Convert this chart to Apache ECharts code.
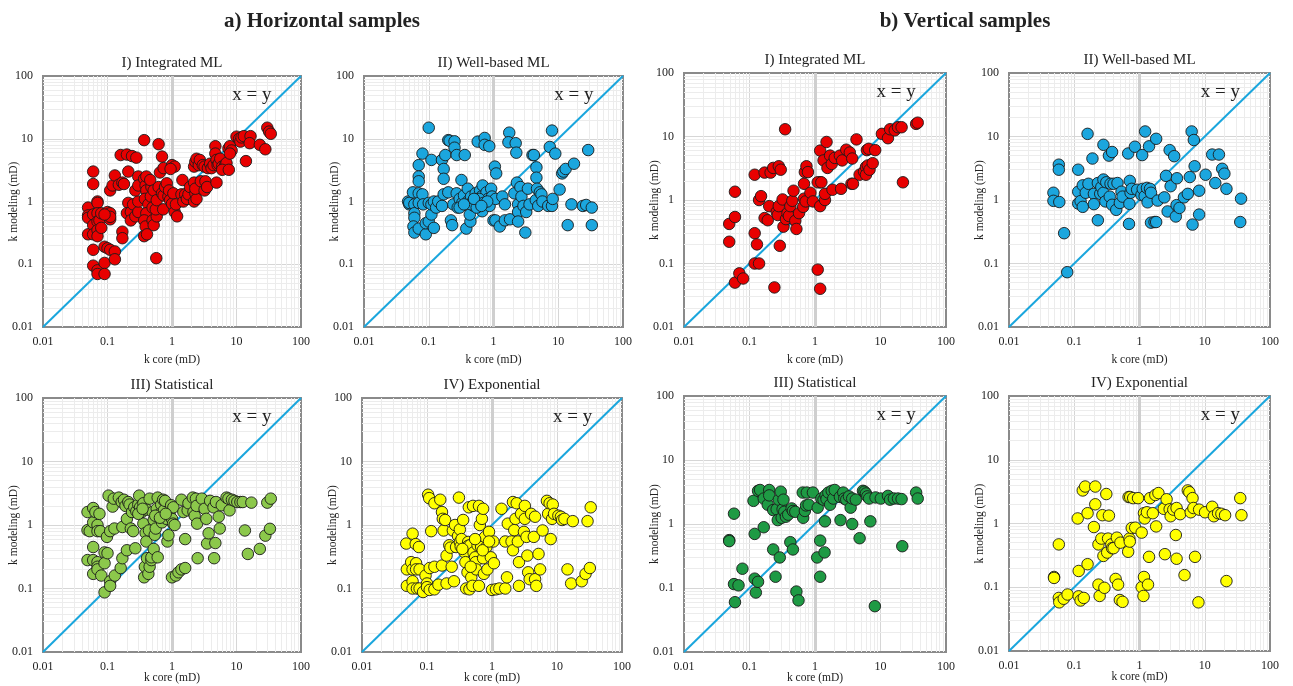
<!DOCTYPE html>
<html>
<head>
<meta charset="utf-8">
<script src="https://cdn.jsdelivr.net/npm/echarts@6/dist/echarts.min.js"></script>
<style>
  html, body { margin: 0; padding: 0; background: #fff; }
  #chart { width: 1293px; height: 686px; }
</style>
</head>
<body>
<div id="chart"></div>
<script>
// axis ticks shared by every panel
const tickLabels = ['0.01', '0.1', '1', '10', '100'];
const axisRange = [0.01, 100];
const sectionTitles = ['a) Horizontal samples', 'b) Vertical samples'];
const panelTitles = [
  'I) Integrated ML', 'II) Well-based ML', 'I) Integrated ML', 'II) Well-based ML',
  'III) Statistical', 'IV) Exponential', 'III) Statistical', 'IV) Exponential',
];

// [k core, k modeling] pairs
const hIntegrated = [
  [0.05,0.8],[0.05,0.6],[0.05,0.55],[0.05,0.3],[0.06,3.0],[0.06,1.9],[0.06,0.62],[0.06,0.42],[0.06,0.3],[0.06,0.17],
  [0.06,0.095],[0.07,0.08],[0.07,0.07],[0.07,1.0],[0.07,0.95],[0.07,0.65],[0.07,0.48],[0.07,0.35],[0.07,0.28],[0.075,0.5],
  [0.08,0.38],[0.08,0.65],[0.09,0.19],[0.09,0.105],[0.09,0.07],[0.1,0.18],[0.11,0.17],[0.13,0.16],[0.13,0.12],[0.1,0.68],
  [0.11,0.65],[0.11,0.52],[0.11,0.57],[0.09,0.62],[0.11,1.5],[0.12,1.8],[0.13,2.6],[0.16,5.5],[0.2,5.6],[0.24,5.3],
  [0.28,5.0],[0.21,3.0],[0.17,0.33],[0.17,0.26],[0.15,1.85],[0.17,2.0],[0.18,1.9],[0.21,0.95],[0.2,0.65],[0.23,0.68],
  [0.23,0.5],[0.25,0.9],[0.27,0.58],[0.3,0.68],[0.3,1.0],[0.27,1.5],[0.3,2.5],[0.3,1.8],[0.37,9.5],[0.37,2.3],
  [0.39,1.8],[0.4,2.5],[0.4,1.5],[0.38,1.1],[0.43,0.9],[0.4,0.65],[0.37,0.5],[0.39,0.4],[0.37,0.28],[0.41,0.3],
  [0.47,1.2],[0.48,1.7],[0.46,2.2],[0.52,1.5],[0.5,0.8],[0.5,0.5],[0.52,0.42],[0.58,0.58],[0.56,0.75],[0.58,1.05],
  [0.57,0.125],[0.62,1.7],[0.62,8.2],[0.7,5.2],[0.65,2.9],[0.74,3.4],[0.7,1.35],[0.74,1.25],[0.73,0.75],[0.78,1.7],
  [0.83,1.95],[0.88,1.2],[0.9,1.5],[0.93,1.05],[1.0,0.92],[1.0,3.8],[1.1,3.6],[0.95,3.3],[1.05,1.35],[1.1,0.68],
  [1.15,0.9],[1.2,0.58],[1.45,2.2],[1.4,1.3],[1.5,1.0],[1.6,1.3],[1.7,1.1],[1.8,1.3],[1.9,1.7],[2.2,2.0],
  [2.2,1.0],[2.3,1.35],[2.4,1.1],[2.3,1.6],[2.2,3.6],[2.3,4.3],[2.4,4.8],[2.6,3.8],[2.7,4.6],[2.8,2.1],
  [3.0,3.8],[3.2,3.6],[3.2,1.5],[3.3,2.1],[3.5,1.7],[3.6,3.4],[3.9,4.0],[4.1,3.4],[4.4,3.8],[4.7,7.6],
  [4.7,5.8],[4.9,4.6],[4.9,2.0],[5.1,3.8],[5.3,4.0],[5.6,4.8],[6.0,3.6],[6.7,3.8],[7.0,4.1],[6.0,3.2],
  [7.6,3.2],[7.5,7.0],[7.9,7.6],[8.4,6.5],[7.9,5.8],[10,10.8],[11,10],[11.5,9],[12,10.5],[13,11],
  [14,4.4],[16.5,11],[16,8.5],[23,8],[28,6.8],[30,15],[32,13],[34,12],
];
const hWellBased = [
  [0.1,15],[0.048,1.0],[0.05,0.9],[0.05,0.95],[0.057,1.4],[0.06,0.9],[0.06,0.65],[0.06,0.55],[0.058,0.4],[0.06,0.32],
  [0.07,3.8],[0.07,2.5],[0.07,2.1],[0.07,1.35],[0.07,0.95],[0.07,0.37],[0.08,5.8],[0.08,1.3],[0.082,0.9],[0.09,0.3],
  [0.09,0.45],[0.1,0.48],[0.1,0.95],[0.11,4.6],[0.11,0.62],[0.11,0.9],[0.12,0.38],[0.12,1.0],[0.13,0.8],[0.14,1.0],
  [0.16,4.6],[0.17,3.3],[0.17,2.3],[0.17,1.3],[0.16,0.85],[0.18,5.5],[0.2,9.5],[0.21,9.3],[0.2,1.4],[0.22,0.5],
  [0.23,0.42],[0.24,0.9],[0.25,9.1],[0.25,7.2],[0.27,5.5],[0.27,1.35],[0.28,0.8],[0.3,1.1],[0.32,2.2],[0.33,0.95],
  [0.36,5.5],[0.35,1.25],[0.38,0.37],[0.4,1.6],[0.4,1.0],[0.42,0.85],[0.44,0.48],[0.43,0.62],[0.45,1.2],[0.48,1.0],
  [0.5,0.85],[0.53,1.35],[0.55,1.0],[0.57,9.0],[0.6,0.95],[0.62,1.5],[0.65,1.2],[0.67,0.7],[0.68,1.8],[0.73,10.3],
  [0.73,8.0],[0.78,1.4],[0.82,1.1],[0.86,7.6],[0.87,0.85],[0.92,1.6],[0.95,1.2],[1.0,0.5],[1.05,3.6],[1.07,0.5],
  [1.08,1.1],[1.1,2.8],[1.25,0.4],[1.37,1.2],[1.5,0.9],[1.5,0.5],[1.75,12.5],[1.7,8.8],[1.8,0.52],[2.1,1.35],
  [2.2,8.5],[2.25,6.0],[2.3,2.0],[2.4,0.9],[2.4,0.68],[2.4,0.48],[2.6,1.7],[2.7,1.2],[2.9,0.85],[3.1,0.32],
  [3.2,0.68],[3.4,1.6],[3.6,0.9],[4.0,5.5],[4.2,5.5],[4.5,1.05],[4.6,3.5],[4.6,2.4],[4.7,1.6],[4.9,0.85],
  [5.2,1.4],[5.5,1.3],[5.7,1.0],[7.0,0.85],[7.4,7.4],[8.0,13.5],[8.0,0.85],[8.2,1.1],[9.0,5.8],[10.5,1.55],
  [11.5,2.8],[12,3.0],[13,3.3],[14,0.42],[16,0.9],[17.5,4.0],[24,0.85],[27,0.88],[29,6.6],[33,0.8],
  [33,0.42],[0.3,0.8],[0.45,0.9],[0.55,0.8],[0.6,1.1],[0.35,0.9],[0.7,0.95],[0.8,1.0],[0.5,1.1],[0.65,0.85],
];
const vIntegrated = [
  [0.049,0.42],[0.049,0.22],[0.06,1.35],[0.06,0.54],[0.06,0.05],[0.07,0.07],[0.08,0.058],[0.12,2.5],[0.12,0.3],[0.13,0.2],
  [0.12,0.1],[0.14,0.1],[0.14,1.0],[0.15,1.15],[0.17,0.52],[0.17,2.7],[0.19,0.48],[0.2,0.8],[0.21,2.7],[0.23,3.2],
  [0.24,0.042],[0.26,0.65],[0.27,0.58],[0.28,3.4],[0.28,0.8],[0.29,0.19],[0.3,3.0],[0.32,1.02],[0.33,0.38],[0.35,13],
  [0.36,0.5],[0.38,0.62],[0.4,0.56],[0.42,0.8],[0.45,0.97],[0.47,1.4],[0.5,0.47],[0.52,0.35],[0.57,0.62],[0.66,0.78],
  [0.68,1.8],[0.68,1.05],[0.7,2.75],[0.74,3.4],[0.78,2.75],[0.72,0.95],[0.85,1.3],[0.93,0.95],[1.1,0.08],[1.2,0.04],
  [1.2,0.8],[1.2,1.9],[1.1,1.9],[1.25,1.9],[1.2,6.0],[1.35,4.2],[1.42,1.0],[1.42,1.25],[1.5,8.2],[1.55,3.2],
  [1.7,5.0],[1.8,3.7],[1.85,1.45],[2.0,4.6],[2.4,5.0],[2.5,1.5],[2.6,4.2],[3.0,6.2],[3.4,5.6],[3.6,1.8],
  [3.8,1.8],[3.7,4.5],[4.3,9.0],[4.8,2.5],[5.6,2.8],[6.0,3.3],[6.2,6.1],[6.0,2.5],[6.4,3.5],[6.6,6.4],
  [6.8,3.0],[7.6,3.8],[8.3,6.1],[10.5,11],[13,9.4],[14,13],[16.5,12.5],[18.5,14],[21,14],[22,1.9],
  [35,15.8],[37,16.5],
];
const vWellBased = [
  [0.048,1.3],[0.048,0.97],[0.058,3.6],[0.058,3.0],[0.059,0.93],[0.07,0.3],[0.078,0.073],[0.115,3.0],[0.115,1.35],[0.115,0.88],
  [0.125,0.96],[0.135,0.78],[0.135,1.7],[0.15,1.3],[0.16,11],[0.165,1.8],[0.19,4.5],[0.2,1.25],[0.2,0.86],[0.23,0.48],
  [0.23,1.85],[0.25,1.25],[0.26,1.6],[0.28,7.4],[0.28,2.1],[0.28,1.3],[0.3,0.95],[0.31,1.9],[0.34,5.0],[0.35,1.13],
  [0.36,1.8],[0.38,5.7],[0.38,0.84],[0.4,1.8],[0.44,0.7],[0.46,1.85],[0.5,0.9],[0.53,1.35],[0.55,1.13],[0.67,5.4],
  [0.69,0.42],[0.7,0.87],[0.71,2.0],[0.73,1.3],[0.76,1.5],[0.85,6.9],[0.92,1.45],[1.07,1.2],[1.1,5.1],[1.12,1.5],
  [1.2,1.15],[1.22,12],[1.3,1.55],[1.33,0.92],[1.4,7.0],[1.45,1.5],[1.5,1.3],[1.5,0.44],[1.7,0.45],[1.8,0.45],
  [1.8,9.2],[1.9,0.98],[2.4,1.1],[2.55,2.4],[2.7,0.66],[2.9,6.1],[3.0,1.65],[3.4,4.9],[3.6,0.55],[3.7,0.83],
  [3.75,2.2],[4.1,0.75],[4.8,1.1],[5.5,1.25],[5.9,2.3],[6.3,12],[6.5,0.41],[6.8,8.8],[7.0,3.4],[8.2,1.4],
  [8.2,0.59],[10.3,2.5],[13,5.2],[14.5,1.85],[16.5,5.2],[18.5,3.1],[20,2.6],[21.5,1.5],[36,1.05],[35,0.45],
];
const hStatistical = [
  [0.049,1.6],[0.049,0.83],[0.049,0.28],[0.053,0.8],[0.06,1.85],[0.06,1.1],[0.06,0.45],[0.06,0.28],[0.06,0.17],[0.065,1.6],
  [0.07,1.0],[0.07,0.8],[0.07,0.26],[0.07,0.22],[0.07,0.2],[0.075,1.5],[0.077,0.8],[0.08,0.16],[0.09,0.37],[0.09,0.25],
  [0.09,0.087],[0.098,0.65],[0.1,0.36],[0.104,2.9],[0.11,0.8],[0.11,0.13],[0.11,0.11],[0.12,1.95],[0.125,2.6],[0.128,0.88],
  [0.13,0.16],[0.15,2.7],[0.16,0.21],[0.166,2.3],[0.17,0.93],[0.17,0.3],[0.18,2.5],[0.19,2.0],[0.2,1.25],[0.2,0.4],
  [0.21,2.3],[0.22,2.1],[0.23,0.88],[0.24,1.6],[0.25,0.8],[0.26,1.9],[0.27,0.43],[0.28,1.65],[0.3,2.1],[0.31,2.9],
  [0.32,1.9],[0.34,1.6],[0.36,2.2],[0.36,1.05],[0.37,0.15],[0.38,0.22],[0.39,0.75],[0.4,1.75],[0.4,0.55],[0.41,0.3],
  [0.43,0.17],[0.44,0.82],[0.45,2.6],[0.45,0.22],[0.48,0.28],[0.48,0.31],[0.5,1.6],[0.52,1.2],[0.52,0.42],[0.54,0.7],
  [0.56,0.88],[0.58,1.8],[0.6,2.7],[0.6,0.31],[0.65,1.5],[0.68,2.1],[0.7,1.1],[0.73,2.5],[0.75,1.7],[0.78,2.4],
  [0.82,1.25],[0.85,0.55],[0.88,0.69],[0.92,1.6],[0.97,2.05],[1.0,1.25],[1.04,1.05],[1.0,0.15],[1.15,0.16],[1.26,0.18],
  [1.4,0.2],[1.6,0.21],[1.05,1.9],[1.1,1.0],[1.4,2.5],[1.6,0.6],[1.5,1.6],[1.75,1.7],[1.8,2.2],[2.1,2.7],
  [2.15,1.6],[2.25,1.4],[2.35,2.6],[2.45,1.05],[2.5,0.3],[2.4,2.0],[2.9,2.6],[3.2,1.8],[3.4,1.25],[3.5,0.51],
  [3.7,0.74],[3.9,2.4],[4.4,1.9],[4.5,0.3],[4.7,0.52],[4.8,2.3],[5.3,1.35],[5.5,0.88],[5.9,2.05],[7.0,2.7],
  [7.5,2.6],[7.8,1.7],[8.5,2.5],[9.3,2.4],[10.3,2.3],[11.5,2.3],[12.5,2.3],[13.5,0.82],[15,0.35],[17,2.25],
  [23,0.42],[28,0.68],[30,2.25],[33,0.87],[34,2.6],[0.3,1.5],[0.35,1.8],[0.55,1.4],[0.65,1.3],[0.8,1.5],
];
const hExponential = [
  [0.048,0.51],[0.049,0.2],[0.049,0.11],[0.06,0.73],[0.057,0.26],[0.06,0.2],[0.06,0.13],[0.06,0.1],[0.067,0.5],[0.068,0.25],
  [0.068,0.2],[0.07,0.1],[0.075,0.45],[0.077,0.2],[0.077,0.1],[0.087,0.088],[0.095,0.16],[0.1,0.12],[0.1,0.105],[0.104,3.0],
  [0.108,2.65],[0.11,0.21],[0.11,0.095],[0.116,0.8],[0.13,0.22],[0.13,2.2],[0.13,0.097],[0.15,0.115],[0.16,2.5],[0.17,1.6],
  [0.17,0.23],[0.175,1.25],[0.18,0.82],[0.19,1.2],[0.2,0.33],[0.2,0.12],[0.22,0.48],[0.23,0.44],[0.24,0.22],[0.25,0.82],
  [0.26,0.13],[0.27,1.0],[0.28,0.45],[0.3,0.67],[0.31,2.7],[0.32,0.85],[0.32,0.54],[0.33,0.46],[0.34,0.6],[0.36,1.2],
  [0.38,0.37],[0.39,0.26],[0.4,0.1],[0.42,0.18],[0.43,0.54],[0.43,0.47],[0.44,1.9],[0.45,0.097],[0.46,0.48],[0.48,0.15],
  [0.5,0.11],[0.51,2.0],[0.52,0.37],[0.55,0.31],[0.56,0.26],[0.57,0.2],[0.6,0.48],[0.63,2.0],[0.63,0.11],[0.65,1.0],
  [0.67,0.57],[0.68,0.45],[0.7,1.25],[0.73,1.8],[0.73,0.3],[0.75,0.17],[0.78,0.65],[0.82,0.45],[0.85,0.2],[0.9,0.78],
  [0.96,0.31],[1.0,0.095],[1.05,0.55],[1.07,0.25],[1.15,0.097],[1.3,0.1],[1.4,1.8],[1.6,0.1],[1.6,0.55],[1.7,0.15],
  [1.75,1.05],[2.0,0.55],[2.1,2.3],[2.2,0.83],[2.1,0.4],[2.3,1.25],[2.4,2.2],[2.5,0.55],[2.6,0.26],[2.6,0.11],
  [2.8,1.5],[3.1,0.78],[3.2,2.0],[3.2,1.25],[3.4,0.65],[3.5,0.33],[3.6,0.18],[3.8,0.14],[4.0,1.5],[4.4,0.65],
  [4.6,1.35],[4.6,0.14],[4.8,0.11],[5.2,0.35],[5.5,0.2],[6.0,0.82],[7.0,2.4],[7.3,1.5],[7.7,2.2],[8.0,0.6],
  [8.4,1.25],[8.6,2.1],[9.0,1.5],[10.5,1.4],[11.5,1.35],[12,1.2],[13,1.25],[14.5,0.2],[16.5,0.12],[17.5,1.15],
  [24,0.13],[27.5,0.17],[29.5,1.15],[32,0.21],[33,1.9],[0.35,0.42],[0.55,0.6],[0.47,0.22],[0.72,0.4],[0.9,0.55],
];
const vStatistical = [
  [0.049,0.56],[0.049,0.54],[0.058,1.45],[0.058,0.115],[0.06,0.06],[0.068,0.11],[0.078,0.2],[0.115,2.3],[0.12,0.7],[0.12,0.14],
  [0.125,0.085],[0.135,0.125],[0.135,3.3],[0.145,3.4],[0.165,0.89],[0.165,2.5],[0.19,2.0],[0.2,3.4],[0.2,2.8],[0.23,1.65],
  [0.23,0.4],[0.25,0.15],[0.26,1.7],[0.27,1.15],[0.28,2.4],[0.29,0.3],[0.3,3.2],[0.31,1.25],[0.32,1.7],[0.33,2.4],
  [0.34,1.55],[0.36,1.3],[0.39,1.4],[0.42,0.52],[0.44,1.75],[0.46,1.6],[0.46,0.4],[0.5,1.55],[0.52,0.088],[0.56,0.064],
  [0.65,3.1],[0.66,1.25],[0.7,1.6],[0.73,1.95],[0.75,3.1],[0.8,2.0],[0.93,3.1],[1.08,0.3],[1.1,1.8],[1.2,0.55],
  [1.2,0.15],[1.25,2.5],[1.35,2.4],[1.4,0.36],[1.42,1.1],[1.45,2.8],[1.5,2.45],[1.6,3.1],[1.7,2.0],[1.8,3.3],
  [1.9,2.5],[2.0,3.4],[2.4,2.65],[2.45,1.15],[2.7,3.1],[2.8,2.5],[3.0,2.4],[3.3,2.7],[3.5,1.8],[3.7,2.5],
  [3.7,1.0],[4.2,2.4],[4.8,0.6],[5.4,3.3],[5.7,3.2],[6.0,3.0],[6.3,2.7],[6.7,2.5],[7.0,1.1],[8.2,0.052],
  [8.4,2.6],[10.1,2.5],[13,2.75],[14,2.4],[16,2.5],[18.5,2.5],[21,2.45],[21.5,0.45],[35,3.1],[37,2.5],
];
const vExponential = [
  [0.049,0.145],[0.049,0.14],[0.058,0.47],[0.058,0.068],[0.059,0.058],[0.069,0.066],[0.079,0.077],[0.113,1.2],[0.117,0.18],[0.117,0.072],
  [0.125,0.062],[0.14,0.068],[0.135,3.3],[0.147,3.8],[0.16,1.45],[0.16,0.23],[0.2,0.88],[0.21,3.8],[0.21,2.0],[0.235,0.47],
  [0.235,0.11],[0.245,0.073],[0.26,0.58],[0.27,1.35],[0.28,0.31],[0.29,0.098],[0.31,2.9],[0.32,0.35],[0.33,0.58],[0.34,1.33],
  [0.37,0.47],[0.38,0.41],[0.4,0.41],[0.43,0.135],[0.45,0.6],[0.47,0.11],[0.5,0.063],[0.51,0.5],[0.55,0.059],[0.67,0.36],
  [0.7,0.58],[0.68,2.6],[0.72,2.6],[0.71,0.52],[0.76,0.85],[0.8,2.5],[0.86,0.86],[0.95,2.5],[1.08,0.72],[1.08,0.1],
  [1.15,0.073],[1.17,0.145],[1.17,1.45],[1.2,1.2],[1.3,1.5],[1.35,0.11],[1.4,0.3],[1.45,2.5],[1.6,1.45],[1.75,2.8],
  [1.8,0.9],[1.95,3.0],[2.45,0.33],[2.35,1.7],[2.6,2.4],[2.9,1.67],[3.0,1.3],[3.3,1.65],[3.6,0.66],[3.7,0.28],
  [3.7,1.75],[4.2,1.4],[4.9,0.155],[5.5,3.3],[5.8,3.1],[6.1,1.5],[6.5,2.5],[6.7,1.75],[7.1,0.3],[8.0,0.058],
  [8.2,1.65],[10.1,1.5],[13,1.83],[13.8,1.3],[16,1.45],[18,1.42],[20.5,1.35],[21.5,0.125],[35,2.5],[36.5,1.35],
];

const panelData = [hIntegrated, hWellBased, vIntegrated, vWellBased, hStatistical, hExponential, vStatistical, vExponential];
const panelColors = ['#e80000', '#1ba6de', '#e80000', '#1ba6de', '#8cc84b', '#ffff00', '#1e9a44', '#ffff00'];

const serif = '"Liberation Serif", "Times New Roman", serif';
const grids = [
  { left: 43, top: 76, width: 258, height: 251 },
  { left: 364, top: 76, width: 259, height: 251 },
  { left: 684, top: 73, width: 262, height: 254 },
  { left: 1009, top: 73, width: 261, height: 254 },
  { left: 43, top: 398, width: 258, height: 254 },
  { left: 362, top: 398, width: 260, height: 254 },
  { left: 684, top: 396, width: 262, height: 256 },
  { left: 1009, top: 396, width: 261, height: 255 },
];

// minor grid lines at 2..9 of each decade, plus the heavier one at 1
const minorValues = [];
for (let d = -2; d <= 1; d++) {
  for (let k = 2; k <= 9; k++) minorValues.push(k * Math.pow(10, d));
}

const fmt = (v) => tickLabels[Math.round(Math.log10(v)) + 2];
const borderColor = '#8a8a8a';

const makeAxis = (i, isX) => ({
  type: 'log',
  logBase: 10,
  gridIndex: i,
  min: axisRange[0],
  max: axisRange[1],
  axisLine: { show: true, lineStyle: { color: borderColor, width: 2 } },
  axisTick: { show: false },
  axisLabel: { formatter: fmt, color: '#222', fontFamily: serif, fontSize: 12, margin: isX ? 9 : 10 },
  splitLine: { show: true, showMinLine: false, showMaxLine: false, lineStyle: { color: '#d6d6d6', width: 1 } },
  name: isX ? 'k core (mD)' : 'k modeling (mD)',
  nameLocation: 'middle',
  nameMoveOverlap: false,
  nameGap: isX ? (i < 4 ? 27 : 20) : 23,
  nameRotate: isX ? 0 : 90,
  nameTextStyle: { fontFamily: serif, fontSize: 11.5, color: '#222' },
});

const series = [];
grids.forEach((g, i) => {
  const lines = [];
  minorValues.forEach((v) => {
    lines.push({ xAxis: v });
    lines.push({ yAxis: v });
  });
  lines.push({ xAxis: 1, lineStyle: { color: '#cfcfcf', width: 3 } });
  series.push({
    type: 'line',
    xAxisIndex: i,
    yAxisIndex: i,
    data: [[1, 1]],
    symbol: 'none',
    lineStyle: { opacity: 0 },
    z: 1,
    silent: true,
    markLine: {
      silent: true,
      z: 1,
      symbol: ['none', 'none'],
      label: { show: false },
      lineStyle: { color: '#ececec', width: 1, type: 'solid' },
      data: lines,
    },
  });
  series.push({
    type: 'line',
    xAxisIndex: i,
    yAxisIndex: i,
    data: [[axisRange[0], axisRange[0]], [axisRange[1], axisRange[1]]],
    symbol: 'none',
    lineStyle: { color: '#1aa6dd', width: 2 },
    z: 2,
    silent: true,
  });
  series.push({
    type: 'scatter',
    xAxisIndex: i,
    yAxisIndex: i,
    data: panelData[i],
    symbolSize: 11.5,
    itemStyle: { color: panelColors[i], borderColor: '#1a1a1a', borderWidth: 0.9, opacity: 1 },
    z: 3,
  });
});

const textStyle = (text, font) => ({
  text: text, font: font, fill: '#222',
  align: 'center', verticalAlign: 'middle', textAlign: 'center', textVerticalAlign: 'middle',
});

const graphic = [];
[322, 965].forEach((cx, j) => {
  graphic.push({ type: 'text', x: cx, y: 22, z: 10, style: textStyle(sectionTitles[j], 'bold 21px ' + serif) });
});
grids.forEach((g, i) => {
  graphic.push({ type: 'text', x: g.left + g.width / 2, y: g.top - 13, z: 10, style: textStyle(panelTitles[i], '15px ' + serif) });
  graphic.push({ type: 'text', x: g.left + g.width * 0.81, y: g.top + 19, z: 10, style: textStyle('x = y', '19px ' + serif) });
});

const chart = echarts.init(document.getElementById('chart'));
chart.setOption({
  animation: false,
  backgroundColor: '#fff',
  grid: grids.map((g) => ({
    ...g, show: true, containLabel: false, outerBoundsMode: 'none',
    backgroundColor: '#fff', borderColor: borderColor, borderWidth: 2,
  })),
  xAxis: grids.map((g, i) => makeAxis(i, true)),
  yAxis: grids.map((g, i) => makeAxis(i, false)),
  graphic: graphic,
  series: series,
});
</script>
</body>
</html>
